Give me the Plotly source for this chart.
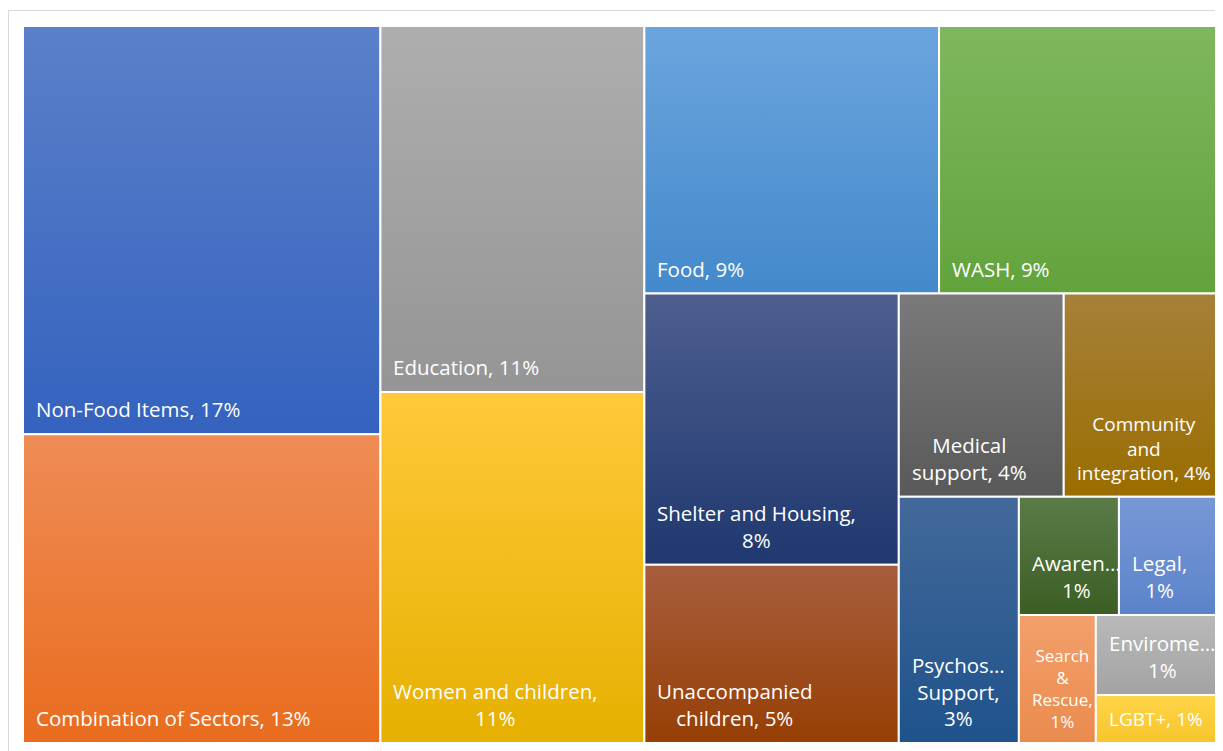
import plotly.graph_objects as go

# ---------------- data ----------------
categories = ["Non-Food Items", "Combination of Sectors", "Education", "Women and children",
              "Food", "WASH", "Shelter and Housing", "Unaccompanied children",
              "Medical support", "Community and integration", "Psychosocial Support",
              "Awareness", "Legal", "Search & Rescue", "Enviroment", "LGBT+"]
counts = [74, 56, 49, 47, 40, 38, 35, 23, 17, 16, 15, 6, 6, 5, 5, 3]
label_templates = ["Non-Food Items, {p}%", "Combination of Sectors, {p}%", "Education, {p}%",
                   "Women and children,<br>{p}%", "Food, {p}%", "WASH, {p}%",
                   "Shelter and Housing,<br>{p}%", "Unaccompanied<br>children, {p}%",
                   "Medical<br>support, {p}%", "Community<br>and<br>integration, {p}%",
                   "Psychos…<br>Support,<br>{p}%", "Awaren…<br>{p}%", "Legal,<br>{p}%",
                   "Search<br>&<br>Rescue,<br>{p}%", "Envirome…<br>{p}%", "LGBT+, {p}%"]

# ---------------- style ----------------
top_colors = ["#5B80CA", "#EF8C56", "#AEAEAE", "#FFC93A", "#6BA5DE", "#7FB75E",
              "#4E5E8F", "#A85D3E", "#7A7A7A", "#A7803A", "#43699A", "#5B7C48",
              "#7898D6", "#F3A06C", "#B9B9B9", "#FFD54A"]
bottom_colors = ["#3462BE", "#E96C1E", "#959595", "#E6B000", "#4389CB", "#62A33C",
                 "#1F386F", "#963F05", "#595959", "#9A6D00", "#1F528C", "#3B5E24",
                 "#5B83CA", "#EA8B4D", "#A3A3A3", "#F7C52C"]
font_family = "Open Sans"
default_font = 20.5
font_override = {"Search & Rescue": 17, "LGBT+": 19, "Community and integration": 19}

W, H = 1196.0, 717.0   # plot area in px (axis units == px)
PAGE_OFFSET = 8        # default body margin of the html page
FIG_W, FIG_H = 1223 - PAGE_OFFSET, 751 - PAGE_OFFSET
PL, PT = 23 - PAGE_OFFSET, 26 - PAGE_OFFSET


def squarify(values, x0, y0, x1, y1, ratio=1.0):
    """Squarified treemap tiling (same rule as d3.treemapSquarify)."""
    n = len(values)
    rects = [None] * n
    i0 = i1 = 0
    value = float(sum(values))
    while i0 < n:
        dx, dy = x1 - x0, y1 - y0
        sum_v = float(values[i1]); i1 += 1
        min_v = max_v = sum_v
        alpha = max(dy / dx, dx / dy) / (value * ratio)
        beta = sum_v * sum_v * alpha
        min_ratio = max(max_v / beta, beta / min_v)
        while i1 < n:
            nv = float(values[i1])
            s = sum_v + nv
            mn, mx = min(min_v, nv), max(max_v, nv)
            beta = s * s * alpha
            new_ratio = max(mx / beta, beta / mn)
            if new_ratio > min_ratio:
                break
            sum_v, min_v, max_v, min_ratio = s, mn, mx, new_ratio
            i1 += 1
        if dx < dy:
            h = dy * sum_v / value
            cx = x0
            for i in range(i0, i1):
                w = dx * values[i] / sum_v
                rects[i] = (cx, y0, cx + w, y0 + h)
                cx += w
            y0 += h
        else:
            w = dx * sum_v / value
            cy = y0
            for i in range(i0, i1):
                h = dy * values[i] / sum_v
                rects[i] = (x0, cy, x0 + w, cy + h)
                cy += h
            x0 += w
        value -= sum_v
        i0 = i1
    return rects


total = sum(counts)
rects = squarify(counts, 0.0, 0.0, W, H)

fig = go.Figure()
annotations = []
for i, (name, v) in enumerate(zip(categories, counts)):
    rx0, ry0, rx1, ry1 = rects[i]
    top, bot = H - ry0, H - ry1
    fig.add_trace(go.Scatter(
        x=[rx0, rx1, rx1, rx0, rx0], y=[top, top, bot, bot, top],
        mode="lines", fill="toself",
        fillgradient=dict(type="vertical", start=bot, stop=top,
                          colorscale=[[0, bottom_colors[i]], [1, top_colors[i]]]),
        line=dict(color="white", width=2),
        name=name, showlegend=False,
        hovertemplate=f"{name}: {v}<extra></extra>",
    ))
    pct = round(v / total * 100)
    fs = font_override.get(name, default_font)
    annotations.append(dict(
        x=rx0 + 11, y=bot + (8 if fs < 18 else 9), xref="x", yref="y",
        xanchor="left", yanchor="bottom", align="center",
        text=label_templates[i].format(p=pct), showarrow=False,
        font=dict(family=font_family, size=fs, color="white"),
    ))

fig.update_layout(
    width=FIG_W, height=FIG_H,
    margin=dict(l=PL, r=FIG_W - PL - int(W), t=PT, b=FIG_H - PT - int(H)),
    paper_bgcolor="white", plot_bgcolor="white",
    xaxis=dict(range=[0, W], visible=False, fixedrange=True),
    yaxis=dict(range=[0, H], visible=False, fixedrange=True),
    annotations=annotations,
    shapes=[dict(type="rect", xref="paper", yref="paper",
                 x0=(0.5 - PL) / W, x1=(1214 - PL) / W,
                 y0=-0.03, y1=(PT + H - 2.5) / H,
                 line=dict(color="#D9D9D9", width=1), layer="below")],
)

fig.write_html("out.html")
